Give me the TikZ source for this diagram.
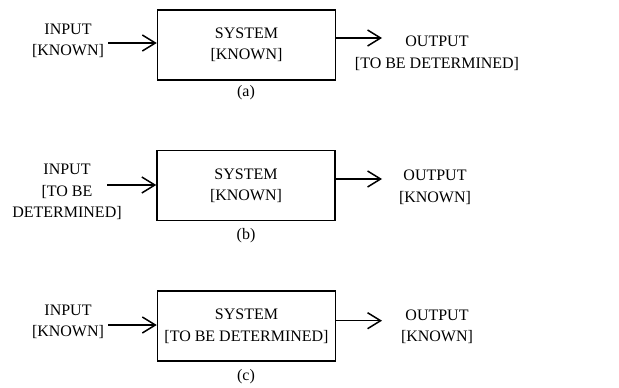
\documentclass[tikz,border=0pt]{standalone}
\usepackage{fontspec}
\setmainfont{Liberation Serif}
\usepackage{tikz}
\usetikzlibrary{
	arrows.meta
}

\begin{document}
\begin{tikzpicture}[x=1pt,y=-1pt,line width=1.5pt,
		sysbox/.style={draw=black,align=center,minimum width=178pt,minimum height=70pt},
		sidetext/.style={align=center},
		flow/.style={-{Straight Barb[length=13pt,width=16pt]}}]
		\fontsize{16}{21.5}\selectfont
		\useasboundingbox (0, 0) rectangle (619, 388);

		\node[sidetext] at (68, 41) (input-a) {INPUT \\ {[KNOWN]}};
		\node[sysbox] at (246.5, 45) (system-a) {SYSTEM \\ {[KNOWN]}};
		\node[sidetext] at (437, 53.5) (output-a) {OUTPUT \\ {[TO BE DETERMINED]}};
		\node at (246, 93) (caption-a) {(a)};
		\coordinate (in-a) at (108, 43);
		\coordinate (out-a) at (382, 38);

		\node[sidetext] at (67, 192) (input-b) {INPUT \\ {[TO BE} \\ DETERMINED]};
		\node[sysbox] at (246, 185.7) (system-b) {SYSTEM \\ {[KNOWN]}};
		\node[sidetext] at (435, 187.5) (output-b) {OUTPUT \\ {[KNOWN]}};
		\node at (246, 236) (caption-b) {(b)};
		\coordinate (in-b) at (107, 185);
		\coordinate (out-b) at (382, 179);

		\node[sidetext] at (68, 322) (input-c) {INPUT \\ {[KNOWN]}};
		\node[sysbox] at (246.5, 326.2) (system-c) {SYSTEM \\ {[TO BE DETERMINED]}};
		\node[sidetext] at (437, 327) (output-c) {OUTPUT \\ {[KNOWN]}};
		\node at (246, 377) (caption-c) {(c)};
		\coordinate (in-c) at (108, 325);
		\coordinate (out-c) at (382, 320.7);

		\draw[flow] (in-a) -> (in-a -| system-a.west);
		\draw[flow] (out-a -| system-a.east) -> (out-a);
		\draw[flow] (in-b) -> (in-b -| system-b.west);
		\draw[flow] (out-b -| system-b.east) -> (out-b);
		\draw[flow] (in-c) -> (in-c -| system-c.west);
		\draw[flow] (out-c -| system-c.east) -> (out-c);
	\end{tikzpicture}
\end{document}
